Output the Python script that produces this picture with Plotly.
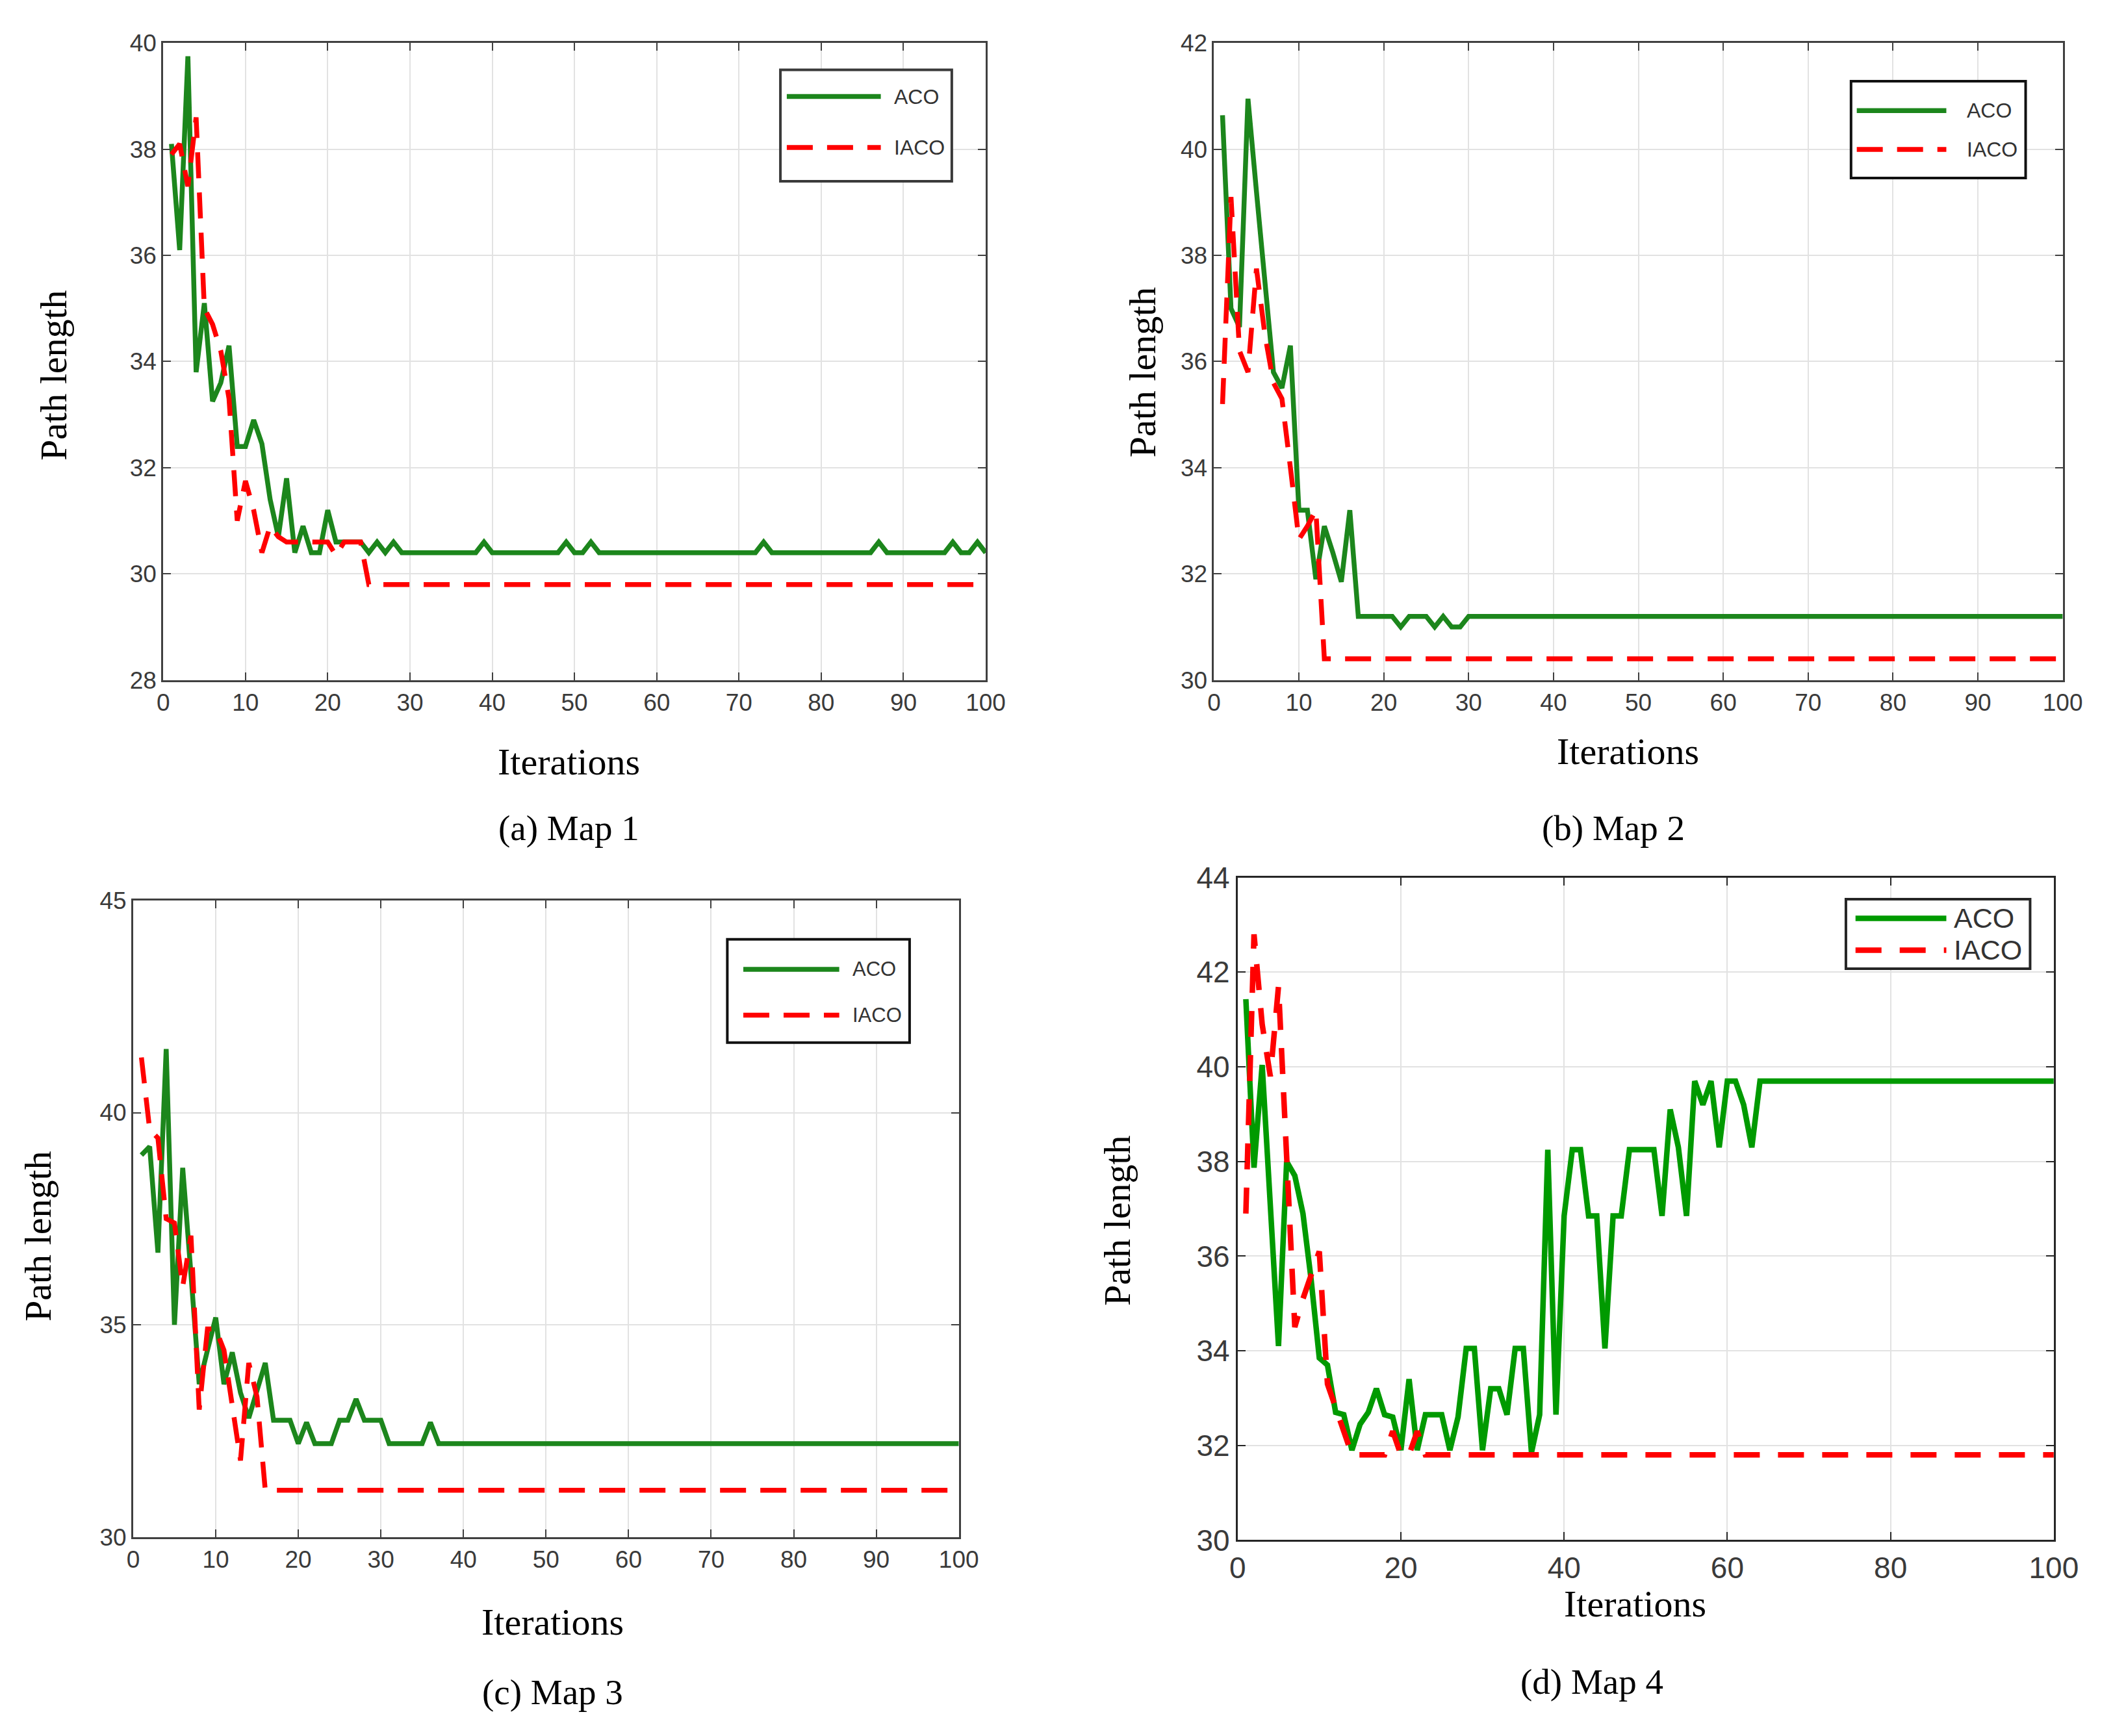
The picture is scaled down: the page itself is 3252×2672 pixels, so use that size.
import plotly.graph_objects as go

W, H = 3252, 2672

iterations = list(range(1, 101))

# Map 1
map1_aco = [38.1, 36.1, 39.75, 33.8, 35.1, 33.25, 33.6, 34.3, 32.4, 32.4,
            32.9, 32.45, 31.4, 30.7, 31.8, 30.4, 30.9, 30.4, 30.4, 31.2,
            30.6, 30.6, 30.6, 30.6, 30.4, 30.6, 30.4, 30.6, 30.4, 30.4,
            30.4, 30.4, 30.4, 30.4, 30.4, 30.4, 30.4, 30.4, 30.6, 30.4,
            30.4, 30.4, 30.4, 30.4, 30.4, 30.4, 30.4, 30.4, 30.6, 30.4,
            30.4, 30.6, 30.4, 30.4, 30.4, 30.4, 30.4, 30.4, 30.4, 30.4,
            30.4, 30.4, 30.4, 30.4, 30.4, 30.4, 30.4, 30.4, 30.4, 30.4,
            30.4, 30.4, 30.6, 30.4, 30.4, 30.4, 30.4, 30.4, 30.4, 30.4,
            30.4, 30.4, 30.4, 30.4, 30.4, 30.4, 30.6, 30.4, 30.4, 30.4,
            30.4, 30.4, 30.4, 30.4, 30.4, 30.6, 30.4, 30.4, 30.6, 30.4]
map1_iaco = [37.9, 38.1, 37.3, 38.6, 35.0, 34.7, 34.2, 33.3, 31.0, 31.75,
             31.2, 30.4, 30.9, 30.7, 30.6, 30.6, 30.6, 30.6, 30.6, 30.6,
             30.35, 30.6, 30.6, 30.6, 29.8, 29.8, 29.8, 29.8, 29.8, 29.8,
             29.8, 29.8, 29.8, 29.8, 29.8, 29.8, 29.8, 29.8, 29.8, 29.8,
             29.8, 29.8, 29.8, 29.8, 29.8, 29.8, 29.8, 29.8, 29.8, 29.8,
             29.8, 29.8, 29.8, 29.8, 29.8, 29.8, 29.8, 29.8, 29.8, 29.8,
             29.8, 29.8, 29.8, 29.8, 29.8, 29.8, 29.8, 29.8, 29.8, 29.8,
             29.8, 29.8, 29.8, 29.8, 29.8, 29.8, 29.8, 29.8, 29.8, 29.8,
             29.8, 29.8, 29.8, 29.8, 29.8, 29.8, 29.8, 29.8, 29.8, 29.8,
             29.8, 29.8, 29.8, 29.8, 29.8, 29.8, 29.8, 29.8, 29.8, 29.8]

# Map 2
map2_aco = [40.64, 37.0, 36.65, 40.95, 39.2, 37.5, 35.8, 35.5, 36.3, 33.2,
            33.2, 31.9, 32.9, 32.4, 31.85, 33.2, 31.2, 31.2, 31.2, 31.2,
            31.2, 31.0, 31.2, 31.2, 31.2, 31.0, 31.2, 31.0, 31.0, 31.2,
            31.2, 31.2, 31.2, 31.2, 31.2, 31.2, 31.2, 31.2, 31.2, 31.2,
            31.2, 31.2, 31.2, 31.2, 31.2, 31.2, 31.2, 31.2, 31.2, 31.2,
            31.2, 31.2, 31.2, 31.2, 31.2, 31.2, 31.2, 31.2, 31.2, 31.2,
            31.2, 31.2, 31.2, 31.2, 31.2, 31.2, 31.2, 31.2, 31.2, 31.2,
            31.2, 31.2, 31.2, 31.2, 31.2, 31.2, 31.2, 31.2, 31.2, 31.2,
            31.2, 31.2, 31.2, 31.2, 31.2, 31.2, 31.2, 31.2, 31.2, 31.2,
            31.2, 31.2, 31.2, 31.2, 31.2, 31.2, 31.2, 31.2, 31.2, 31.2]
map2_iaco = [35.2, 39.1, 36.2, 35.8, 37.75, 36.5, 35.6, 35.3, 34.0, 32.65,
             32.9, 33.2, 30.4, 30.4, 30.4, 30.4, 30.4, 30.4, 30.4, 30.4,
             30.4, 30.4, 30.4, 30.4, 30.4, 30.4, 30.4, 30.4, 30.4, 30.4,
             30.4, 30.4, 30.4, 30.4, 30.4, 30.4, 30.4, 30.4, 30.4, 30.4,
             30.4, 30.4, 30.4, 30.4, 30.4, 30.4, 30.4, 30.4, 30.4, 30.4,
             30.4, 30.4, 30.4, 30.4, 30.4, 30.4, 30.4, 30.4, 30.4, 30.4,
             30.4, 30.4, 30.4, 30.4, 30.4, 30.4, 30.4, 30.4, 30.4, 30.4,
             30.4, 30.4, 30.4, 30.4, 30.4, 30.4, 30.4, 30.4, 30.4, 30.4,
             30.4, 30.4, 30.4, 30.4, 30.4, 30.4, 30.4, 30.4, 30.4, 30.4,
             30.4, 30.4, 30.4, 30.4, 30.4, 30.4, 30.4, 30.4, 30.4, 30.4]

# Map 3
map3_aco = [39.0, 39.2, 36.7, 41.5, 35.0, 38.7, 36.2, 33.6, 34.4, 35.17,
            33.6, 34.35, 33.4, 32.8, 33.45, 34.1, 32.75, 32.75, 32.75, 32.2,
            32.7, 32.2, 32.2, 32.2, 32.75, 32.75, 33.25, 32.75, 32.75, 32.75,
            32.2, 32.2, 32.2, 32.2, 32.2, 32.7, 32.2, 32.2, 32.2, 32.2,
            32.2, 32.2, 32.2, 32.2, 32.2, 32.2, 32.2, 32.2, 32.2, 32.2,
            32.2, 32.2, 32.2, 32.2, 32.2, 32.2, 32.2, 32.2, 32.2, 32.2,
            32.2, 32.2, 32.2, 32.2, 32.2, 32.2, 32.2, 32.2, 32.2, 32.2,
            32.2, 32.2, 32.2, 32.2, 32.2, 32.2, 32.2, 32.2, 32.2, 32.2,
            32.2, 32.2, 32.2, 32.2, 32.2, 32.2, 32.2, 32.2, 32.2, 32.2,
            32.2, 32.2, 32.2, 32.2, 32.2, 32.2, 32.2, 32.2, 32.2, 32.2]
map3_iaco = [41.3, 39.6, 39.4, 37.5, 37.4, 35.9, 37.1, 33.0, 34.9, 34.9,
             34.4, 33.0, 31.8, 34.1, 33.3, 31.1, 31.1, 31.1, 31.1, 31.1,
             31.1, 31.1, 31.1, 31.1, 31.1, 31.1, 31.1, 31.1, 31.1, 31.1,
             31.1, 31.1, 31.1, 31.1, 31.1, 31.1, 31.1, 31.1, 31.1, 31.1,
             31.1, 31.1, 31.1, 31.1, 31.1, 31.1, 31.1, 31.1, 31.1, 31.1,
             31.1, 31.1, 31.1, 31.1, 31.1, 31.1, 31.1, 31.1, 31.1, 31.1,
             31.1, 31.1, 31.1, 31.1, 31.1, 31.1, 31.1, 31.1, 31.1, 31.1,
             31.1, 31.1, 31.1, 31.1, 31.1, 31.1, 31.1, 31.1, 31.1, 31.1,
             31.1, 31.1, 31.1, 31.1, 31.1, 31.1, 31.1, 31.1, 31.1, 31.1,
             31.1, 31.1, 31.1, 31.1, 31.1, 31.1, 31.1, 31.1, 31.1, 31.1]

# Map 4
map4_aco = [41.43, 37.87, 40.04, 37.0, 34.1, 38.0, 37.7, 36.9, 35.5, 33.85,
            33.7, 32.7, 32.65, 31.9, 32.45, 32.7, 33.2, 32.65, 32.6, 31.9,
            33.4, 31.9, 32.65, 32.65, 32.65, 31.9, 32.6, 34.05, 34.05, 31.9,
            33.2, 33.2, 32.65, 34.05, 34.05, 31.85, 32.65, 38.25, 32.65, 36.85,
            38.25, 38.25, 36.85, 36.85, 34.05, 36.85, 36.85, 38.25, 38.25, 38.25,
            38.25, 36.85, 39.1, 38.3, 36.85, 39.7, 39.2, 39.7, 38.3, 39.7,
            39.7, 39.2, 38.3, 39.7, 39.7, 39.7, 39.7, 39.7, 39.7, 39.7,
            39.7, 39.7, 39.7, 39.7, 39.7, 39.7, 39.7, 39.7, 39.7, 39.7,
            39.7, 39.7, 39.7, 39.7, 39.7, 39.7, 39.7, 39.7, 39.7, 39.7,
            39.7, 39.7, 39.7, 39.7, 39.7, 39.7, 39.7, 39.7, 39.7, 39.7]
map4_iaco = [36.9, 42.8, 40.9, 39.8, 41.7, 38.2, 34.5, 35.1, 35.6, 36.1,
             33.3, 32.8, 32.25, 31.8, 31.8, 31.8, 31.8, 31.8, 32.3, 31.8,
             31.8, 32.3, 31.8, 31.8, 31.8, 31.8, 31.8, 31.8, 31.8, 31.8,
             31.8, 31.8, 31.8, 31.8, 31.8, 31.8, 31.8, 31.8, 31.8, 31.8,
             31.8, 31.8, 31.8, 31.8, 31.8, 31.8, 31.8, 31.8, 31.8, 31.8,
             31.8, 31.8, 31.8, 31.8, 31.8, 31.8, 31.8, 31.8, 31.8, 31.8,
             31.8, 31.8, 31.8, 31.8, 31.8, 31.8, 31.8, 31.8, 31.8, 31.8,
             31.8, 31.8, 31.8, 31.8, 31.8, 31.8, 31.8, 31.8, 31.8, 31.8,
             31.8, 31.8, 31.8, 31.8, 31.8, 31.8, 31.8, 31.8, 31.8, 31.8,
             31.8, 31.8, 31.8, 31.8, 31.8, 31.8, 31.8, 31.8, 31.8, 31.8]

series_names = ['ACO', 'IACO']
captions = ['(a) Map 1', '(b) Map 2', '(c) Map 3', '(d) Map 4']


def fx(p):
    return p / W


def fy(p):
    return 1 - p / H


# layout of each panel, in page pixels
panels = [
    dict(aco=map1_aco, iaco=map1_iaco, box=(242, 41, 1528, 1041),
         yrange=[28, 40], ydtick=2, xdtick=10, tick=37, green='#1c861c',
         width=7.5, dash='40px,22px', frame='#404040',
         ylab=(70, 562), xlab=(876, 1169), cap=(876, 1273),
         leg=(1207, 83, 1475, 258), leg_line=(1217, 1364), leg_rows=(125, 205),
         leg_text=1383, leg_font=32, leg_frame='#3a3a3a'),
    dict(aco=map2_aco, iaco=map2_iaco, box=(1885, 41, 3212, 1041),
         yrange=[30, 42], ydtick=2, xdtick=10, tick=37, green='#1c861c',
         width=7.5, dash='40px,22px', frame='#404040',
         ylab=(1773, 558), xlab=(2532, 1153), cap=(2509, 1273),
         leg=(2881, 101, 3154, 253), leg_line=(2890, 3030), leg_rows=(147, 208),
         leg_text=3060, leg_font=32, leg_frame='#111111'),
    dict(aco=map3_aco, iaco=map3_iaco, box=(195, 1387, 1486, 2386),
         yrange=[30, 45], ydtick=5, xdtick=10, tick=37, green='#1c861c',
         width=7.5, dash='40px,22px', frame='#404040',
         ylab=(46, 1914), xlab=(851, 2520), cap=(851, 2630),
         leg=(1124, 1448, 1409, 1610), leg_line=(1149, 1299), leg_rows=(1495, 1567),
         leg_text=1318, leg_font=31, leg_frame='#111111'),
    dict(aco=map4_aco, iaco=map4_iaco, box=(1922, 1351, 3198, 2391),
         yrange=[30, 44], ydtick=2, xdtick=20, tick=46, green='#009a00',
         width=8.5, dash='40px,28px', frame='#262626',
         ylab=(1733, 1889), xlab=(2543, 2491), cap=(2476, 2613),
         leg=(2873, 1385, 3161, 1494), leg_line=(2888, 3030), leg_rows=(1415, 1465),
         leg_text=3040, leg_font=43, leg_frame='#262626'),
]

fig = go.Figure()
shapes = []
annotations = []

for i, p in enumerate(panels):
    n = '' if i == 0 else str(i + 1)
    x0, y0, x1, y1 = p['box']

    fig.add_trace(go.Scatter(x=iterations, y=p['aco'], mode='lines', name=series_names[0],
                             xaxis='x' + n, yaxis='y' + n, showlegend=False,
                             line=dict(color=p['green'], width=p['width'])))
    fig.add_trace(go.Scatter(x=iterations, y=p['iaco'], mode='lines', name=series_names[1],
                             xaxis='x' + n, yaxis='y' + n, showlegend=False,
                             line=dict(color='#ff0000', width=p['width'], dash=p['dash'])))

    tickfont = dict(family='Liberation Sans', size=p['tick'], color='#3a3a3a')
    common = dict(showgrid=True, gridcolor='#e2e2e2', gridwidth=2, zeroline=False,
                  showline=True, linecolor=p['frame'], linewidth=3, mirror='ticks',
                  ticks='inside', ticklen=12, tickwidth=2, tickcolor=p['frame'],
                  tickfont=tickfont)
    fig.update_layout(**{
        'xaxis' + n: dict(domain=[fx(x0), fx(x1)], range=[0, 100], dtick=p['xdtick'],
                          anchor='y' + n, **common),
        'yaxis' + n: dict(domain=[fy(y1), fy(y0)], range=p['yrange'], dtick=p['ydtick'],
                          anchor='x' + n, **common),
    })

    serif = dict(family='Liberation Serif', size=58, color='black')
    annotations.append(dict(text='Path length', x=fx(p['ylab'][0]), y=fy(p['ylab'][1]),
                            xref='paper', yref='paper', textangle=-90, showarrow=False,
                            xanchor='center', yanchor='middle', font=serif))
    annotations.append(dict(text='Iterations', x=fx(p['xlab'][0]), y=fy(p['xlab'][1]),
                            xref='paper', yref='paper', showarrow=False,
                            xanchor='center', yanchor='middle', font=serif))
    annotations.append(dict(text=captions[i], x=fx(p['cap'][0]), y=fy(p['cap'][1]),
                            xref='paper', yref='paper', showarrow=False,
                            xanchor='center', yanchor='middle',
                            font=dict(family='Liberation Serif', size=55, color='black')))

    # legend box drawn by hand so the line samples are long like the original
    lx0, ly0, lx1, ly1 = p['leg']
    shapes.append(dict(type='rect', xref='paper', yref='paper',
                       x0=fx(lx0), x1=fx(lx1), y0=fy(ly1), y1=fy(ly0),
                       fillcolor='white', line=dict(color=p['leg_frame'], width=4)))
    styles = [dict(color=p['green'], width=p['width']),
              dict(color='#ff0000', width=p['width'], dash=p['dash'])]
    for name, row, st in zip(series_names, p['leg_rows'], styles):
        shapes.append(dict(type='line', xref='paper', yref='paper',
                           x0=fx(p['leg_line'][0]), x1=fx(p['leg_line'][1]),
                           y0=fy(row), y1=fy(row), line=st))
        annotations.append(dict(text=name, x=fx(p['leg_text']), y=fy(row),
                                xref='paper', yref='paper', showarrow=False,
                                xanchor='left', yanchor='middle',
                                font=dict(family='Liberation Sans', size=p['leg_font'],
                                          color='#333333')))

fig.update_layout(width=W, height=H, margin=dict(l=0, r=0, t=0, b=0),
                  paper_bgcolor='white', plot_bgcolor='white',
                  shapes=shapes, annotations=annotations, showlegend=False)

fig.write_html('out.html', config={'displayModeBar': False},
               post_script="document.body.style.margin='0';")
